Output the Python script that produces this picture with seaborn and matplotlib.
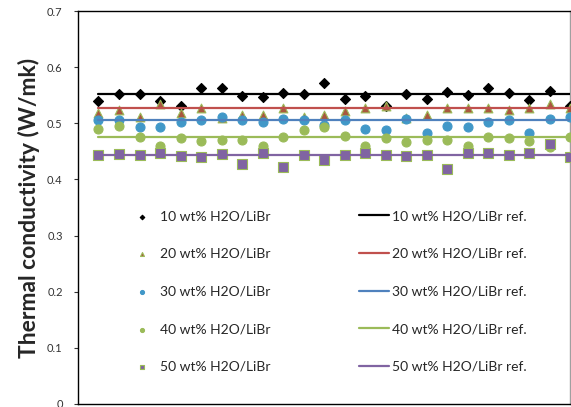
import numpy as np
import pandas as pd
import matplotlib
matplotlib.use("Agg")
import matplotlib.pyplot as plt
import seaborn as sns

sns.set_theme(style="white")
plt.rcParams["font.family"] = ["Lato", "DejaVu Sans"]

# measurement index (no labels on the x axis in the original)
x = np.arange(1, 25)

k10 = [0.540, 0.552, 0.552, 0.540, 0.531, 0.563, 0.562, 0.549, 0.546, 0.554, 0.552, 0.572,
       0.544, 0.548, 0.531, 0.552, 0.543, 0.556, 0.550, 0.563, 0.554, 0.542, 0.557, 0.531]
k20 = [0.518, 0.524, 0.512, 0.535, 0.518, 0.528, 0.510, 0.514, 0.514, 0.528, 0.512, 0.514,
       0.521, 0.527, 0.530, 0.510, 0.515, 0.528, 0.527, 0.528, 0.523, 0.528, 0.534, 0.528]
k30 = [0.506, 0.506, 0.493, 0.494, 0.502, 0.506, 0.511, 0.505, 0.502, 0.507, 0.505, 0.497,
       0.505, 0.490, 0.488, 0.507, 0.483, 0.496, 0.494, 0.502, 0.506, 0.483, 0.508, 0.512]
k40 = [0.489, 0.496, 0.476, 0.459, 0.473, 0.468, 0.471, 0.471, 0.460, 0.476, 0.488, 0.493,
       0.477, 0.459, 0.473, 0.466, 0.470, 0.470, 0.460, 0.476, 0.473, 0.469, 0.457, 0.476]
k50 = [0.443, 0.446, 0.443, 0.447, 0.441, 0.440, 0.446, 0.427, 0.447, 0.422, 0.443, 0.435,
       0.444, 0.447, 0.444, 0.441, 0.444, 0.418, 0.447, 0.447, 0.443, 0.447, 0.463, 0.440]

ref_vals = [0.552, 0.528, 0.505, 0.475, 0.443]
labels = ["10 wt% H2O/LiBr", "20 wt% H2O/LiBr", "30 wt% H2O/LiBr",
          "40 wt% H2O/LiBr", "50 wt% H2O/LiBr"]

measured = [k10, k20, k30, k40, k50]
markers = ["D", "^", "o", "o", "s"]
sizes = [26, 40, 42, 42, 42]
fills = ["#000000", "#A9573F", "#4198C8", "#9BBB59", "#8064A2"]
edges = ["#000000", "#9BBB59", "#4198C8", "#9BBB59", "#9BBB59"]
line_colors = ["#000000", "#C0504D", "#4F81BD", "#9BBB59", "#8064A2"]

fig = plt.figure(figsize=(5.71, 4.07), dpi=100)
ax = fig.add_axes([78 / 571, 3 / 407, 492 / 571, 393 / 407])

for vals, lab, m, s, fc, ec in zip(measured, labels, markers, sizes, fills, edges):
    df = pd.DataFrame({"x": x, "k": vals})
    sns.scatterplot(data=df, x="x", y="k", ax=ax, marker=m, s=s, color=fc,
                    edgecolor=ec, linewidth=0.8, label=lab, legend=False, zorder=3)

for ref, lab, c in zip(ref_vals, labels, line_colors):
    df = pd.DataFrame({"x": [x[0], x[-1]], "k": [ref, ref]})
    sns.lineplot(data=df, x="x", y="k", ax=ax, color=c, linewidth=1.6,
                 label=lab + " ref.", legend=False, zorder=4)

ax.set_xlim(0, 24)
ax.set_ylim(0, 0.7)
ax.set_yticks(np.arange(0, 0.71, 0.1))
ax.set_yticklabels(["0", "0.1", "0.2", "0.3", "0.4", "0.5", "0.6", "0.7"])
ax.set_xticks([])
ax.set_xlabel("")
ax.set_ylabel("Thermal conductivity (W/mk)", fontsize=16.5, fontweight="bold", labelpad=5)
ax.tick_params(axis="y", direction="out", length=3, width=0.8, pad=8,
               labelsize=8, colors="#333333", left=True)

for side in ["left", "bottom", "top"]:
    ax.spines[side].set_color("#000000")
    ax.spines[side].set_linewidth(1.0)
ax.spines["right"].set_color("#A0A0A0")
ax.spines["right"].set_linewidth(1.0)

handles, labs = ax.get_legend_handles_labels()
ax.legend(handles, labs, ncol=2, loc="center", bbox_to_anchor=(0.506, 0.286),
          frameon=False, fontsize=10, markerscale=0.45, handlelength=2.15,
          handletextpad=0.25, columnspacing=6.35, labelspacing=1.85, borderpad=0)

fig.savefig("out.png", dpi=100)
